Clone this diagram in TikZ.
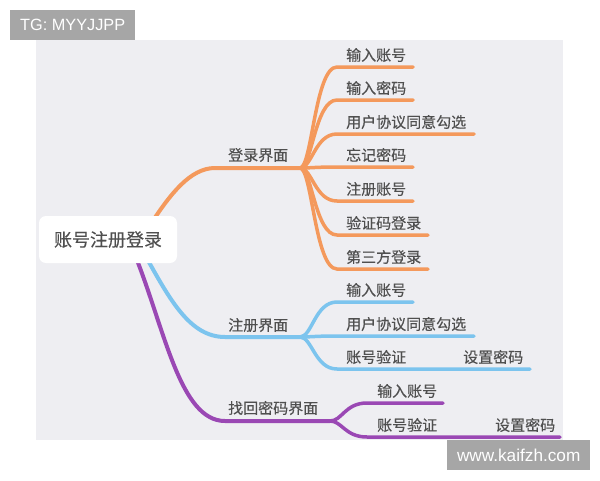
\documentclass[tikz,border=0pt]{standalone}
\usepackage{fontspec}
\setmainfont{Liberation Sans}
\newfontfamily\cjk[FakeBold=0.3]{Noto Sans CJK SC}
\definecolor{bgc}{HTML}{EEEEF2}
\definecolor{org}{HTML}{F4995C}
\definecolor{blu}{HTML}{7CC4EE}
\definecolor{pur}{HTML}{9A48B4}
\definecolor{txt}{HTML}{4F4F4F}
\definecolor{wmc}{HTML}{A6A6A6}
\begin{document}
\begin{tikzpicture}[x=1pt,y=-1pt,
  lbl/.style={font=\cjk\fontsize{15}{18}\selectfont, text=txt, inner sep=0pt, anchor=west},
  br/.style={line width=4pt, line cap=round},
  ch/.style={line width=3.5pt, line cap=round},
  wm/.style={fill=wmc, text=white, inner sep=0pt, minimum height=30pt}]
\useasboundingbox (0,0) rectangle (600,480);
\fill[bgc] (36,40) rectangle (563,440);
\node[wm, minimum width=125pt, anchor=north west, font=\fontsize{16.3}{19}\selectfont] (wm1) at (10,10) {TG: MYYJJPP};
\node[wm, minimum width=143pt, anchor=north west, font=\fontsize{17.2}{20}\selectfont] (wm2) at (447,440) {www.kaifzh.com};

% main branches
\coordinate (o0) at (152,222);
\coordinate (o1) at (215,168);
\coordinate (oh) at (300,168);
\coordinate (b0) at (145,255);
\coordinate (b1) at (225,337);
\coordinate (bh) at (300,337);
\coordinate (p0) at (135,255);
\coordinate (p1) at (225,421);
\coordinate (ph) at (330,421);
\draw[br,org] (o0) .. controls (170,195) and (190,168) .. (o1) -- (oh);
\draw[br,blu] (b0) .. controls (170,300) and (190,337) .. (b1) -- (bh);
\draw[br,pur] (p0) .. controls (165,330) and (180,421) .. (p1) -- (ph);

\node[fill=white, rounded corners=7pt, minimum width=138pt, minimum height=47pt, inner sep=0pt,
  font=\cjk\fontsize{18}{22}\selectfont, text=txt] (root) at (108,239.5) {账号注册登录};

\node[lbl] (lo) at (228,155) {登录界面};
\node[lbl] (lb) at (228,325) {注册界面};
\node[lbl] (lp) at (228,408) {找回密码界面};

% orange children
\foreach \n/\y/\e/\t in {a/67/413/输入账号, b/100/413/输入密码, c/134/474/用户协议同意勾选, d/167/413/忘记密码, e/201/413/注册账号, f/235/428/验证码登录, g/269/428/第三方登录}{
  \coordinate (os\n) at (337,\y);
  \coordinate (oe\n) at (\e,\y);
  \draw[ch,org] (oh) .. controls +(12,0) and +(-22,0) .. (os\n) -- (oe\n);
  \node[lbl] (ot\n) at (346,\y-12) {\t};
}
% blue children
\foreach \n/\y/\e/\t in {a/302/413/输入账号, b/336/474/用户协议同意勾选, c/369/530/账号验证}{
  \coordinate (bs\n) at (337,\y);
  \coordinate (be\n) at (\e,\y);
  \draw[ch,blu] (bh) .. controls +(12,0) and +(-22,0) .. (bs\n) -- (be\n);
  \node[lbl] (bt\n) at (346,\y-12) {\t};
}
\node[lbl] (bt4) at (463,357) {设置密码};
% purple children
\foreach \n/\y/\e/\t in {a/403/443/输入账号, b/437/560/账号验证}{
  \coordinate (ps\n) at (367,\y);
  \coordinate (pe\n) at (\e,\y);
  \draw[ch,pur] (ph) .. controls +(12,0) and +(-22,0) .. (ps\n) -- (pe\n);
  \node[lbl] (pt\n) at (377,\y-12) {\t};
}
\node[lbl] (pt3) at (495,425) {设置密码};
\end{tikzpicture}
\end{document}
